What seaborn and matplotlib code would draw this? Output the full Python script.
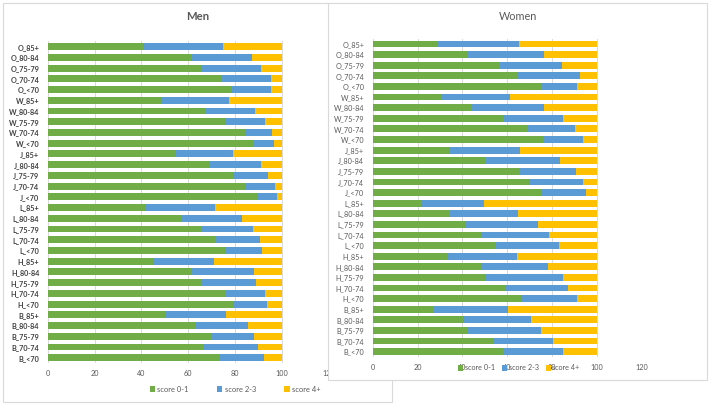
import matplotlib
matplotlib.use("Agg")
import matplotlib.pyplot as plt
from matplotlib.patches import Rectangle, Patch
import seaborn as sns
import pandas as pd
import numpy as np

categories = ["O_85+", "O_80-84", "O_75-79", "O_70-74", "O_<70",
              "W_85+", "W_80-84", "W_75-79", "W_70-74", "W_<70",
              "J_85+", "J_80-84", "J_75-79", "J_70-74", "J_<70",
              "L_85+", "L_80-84", "L_75-79", "L_70-74", "L_<70",
              "H_85+", "H_80-84", "H_75-79", "H_70-74", "H_<70",
              "B_85+", "B_80-84", "B_75-79", "B_70-74", "B_<70"]

men_score01 = [40.5, 61.5, 65.9, 74.0, 78.5,
               48.4, 67.4, 76.0, 84.4, 88.1,
               54.6, 69.3, 79.5, 84.6, 89.3,
               42.0, 57.2, 65.9, 71.6, 75.7,
               44.8, 61.2, 65.6, 76.0, 79.1,
               50.4, 62.7, 69.7, 66.4, 73.3]
men_score23 = [34.2, 25.6, 25.1, 21.4, 16.8,
               28.8, 21.2, 16.7, 11.3, 8.6,
               24.6, 21.7, 14.4, 12.4, 8.6,
               29.4, 25.7, 21.7, 19.0, 15.9,
               26.2, 27.0, 23.4, 16.7, 14.4,
               25.7, 22.6, 18.2, 23.2, 19.0]

women_score01 = [29.3, 42.1, 56.3, 65.0, 75.0,
                 30.4, 43.9, 58.3, 69.5, 75.9,
                 34.2, 50.7, 65.5, 69.9, 75.0,
                 21.4, 34.7, 41.8, 48.4, 54.6,
                 33.2, 48.2, 50.3, 59.2, 66.1,
                 27.5, 40.2, 42.0, 53.7, 58.8]
women_score23 = [36.0, 34.4, 28.2, 27.4, 16.4,
                 30.9, 32.6, 26.5, 20.8, 18.1,
                 31.6, 33.1, 25.1, 23.9, 20.2,
                 28.5, 30.3, 32.2, 30.3, 28.4,
                 31.2, 29.9, 34.7, 28.0, 25.0,
                 33.1, 30.3, 33.1, 26.7, 26.2]

series_names = ["score 0-1", "score 2-3", "score 4+"]
colors = ["#70AD47", "#5B9BD5", "#FFC000"]
xticks = [0, 20, 40, 60, 80, 100, 120]

plt.rcParams['font.family'] = ['Lato', 'DejaVu Sans']

W, H = 709, 404
fig = plt.figure(figsize=(W / 100, H / 100), dpi=100)
fig.patch.set_facecolor("white")

def fx(px):
    return px / W

def fy(py):
    return 1 - py / H

border = "#D9D9D9"
# Men panel box
fig.patches.append(Rectangle((fx(3), fy(402)), fx(392) - fx(3), fy(3) - fy(402),
                             transform=fig.transFigure, facecolor="white",
                             edgecolor=border, lw=0.8, zorder=-1))
# Women panel box (drawn over men panel)
fig.patches.append(Rectangle((fx(328), fy(380)), fx(707) - fx(328), fy(3) - fy(380),
                             transform=fig.transFigure, facecolor="white",
                             edgecolor=border, lw=0.8, zorder=1))


def draw_panel(ax, g, b, bold):
    df = pd.DataFrame({"cat": categories,
                       "total": [100.0] * len(categories),
                       "gb": np.array(g) + np.array(b),
                       "g": g})
    for col, c in zip(["total", "gb", "g"], colors[::-1]):
        sns.barplot(data=df, x=col, y="cat", orient="h", color=c,
                    width=0.64, ax=ax, saturation=1, zorder=3)
    ax.set_xlim(0, 120)
    ax.set_ylim(len(categories) - 0.5, -0.5)
    ax.set_xticks(xticks)
    ax.set_xlabel("")
    ax.set_ylabel("")
    ax.grid(axis="x", color="#D9D9D9", lw=0.7, zorder=0)
    ax.set_axisbelow(True)
    for s in ax.spines.values():
        s.set_visible(False)
    ax.tick_params(axis="both", length=0, labelsize=5.2, colors="#595959")
    ax.tick_params(axis="y", pad=6)
    ax.tick_params(axis="x", pad=5)
    if bold:
        for t in ax.get_yticklabels():
            t.set_fontweight("bold")
            t.set_color("#404040")
    ax.set_facecolor("none")


# Men axes
ax_m = fig.add_axes([fx(47.7), fy(363.1), fx(329) - fx(47.7), fy(41.3) - fy(363.1)])
ax_m.set_zorder(0)
draw_panel(ax_m, men_score01, men_score23, True)

# Women axes
ax_w = fig.add_axes([fx(372.7), fy(357.0), fx(641.5) - fx(372.7), fy(38.7) - fy(357.0)])
ax_w.set_zorder(2)
draw_panel(ax_w, women_score01, women_score23, False)

fig.text(fx(198), fy(16), "Men", ha="center", va="center", fontsize=8.2,
         fontweight="bold", color="#595959", zorder=0)
fig.text(fx(518), fy(17), "Women", ha="center", va="center", fontsize=7.8,
         color="#595959", zorder=3)

handles = [Patch(facecolor=c, edgecolor="none") for c in colors]
leg_m = ax_m.legend(handles, series_names, loc="center",
                    bbox_to_anchor=(fx(235), fy(389)), bbox_transform=fig.transFigure,
                    ncol=3, frameon=False, fontsize=5.4, handlelength=0.7,
                    handleheight=0.7, handletextpad=0.3, columnspacing=3.8,
                    labelcolor="#595959")
leg_w = ax_w.legend(handles, series_names, loc="center",
                    bbox_to_anchor=(fx(519), fy(368)), bbox_transform=fig.transFigure,
                    ncol=3, frameon=False, fontsize=5.2, handlelength=0.7,
                    handleheight=0.7, handletextpad=0.2, columnspacing=1.0,
                    labelcolor="#595959")

fig.savefig("out.png", dpi=100, facecolor="white")
